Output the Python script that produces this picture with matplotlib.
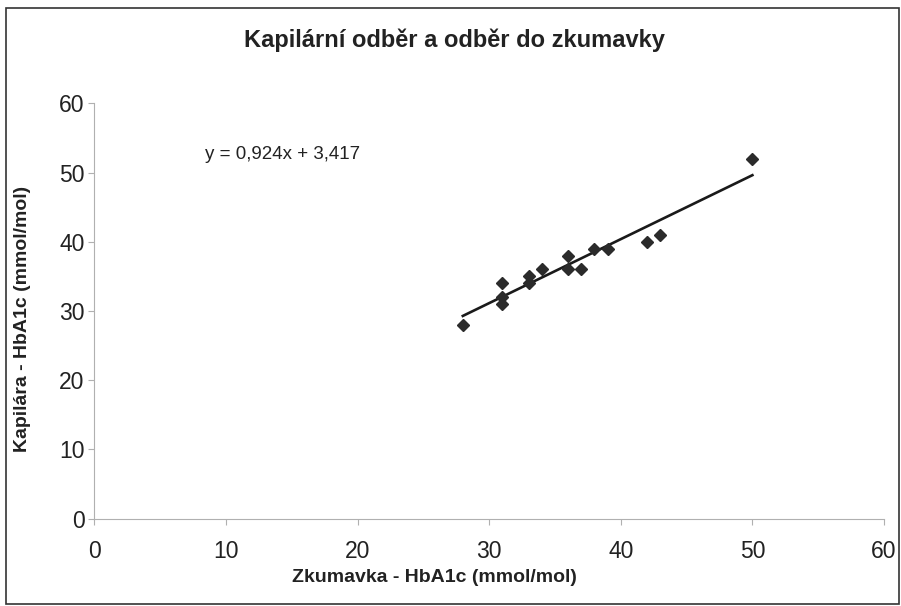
import matplotlib
matplotlib.use("Agg")
import matplotlib.pyplot as plt
import numpy as np
from matplotlib.patches import Rectangle

plt.rcParams['font.family'] = ['Liberation Sans', 'DejaVu Sans']

# Data
zkumavka = [28, 31, 31, 31, 33, 33, 34, 36, 36, 37, 38, 39, 42, 43, 50]
kapilara = [28, 34, 32, 31, 35, 34, 36, 38, 36, 36, 39, 39, 40, 41, 52]
slope = 0.924
intercept = 3.417
x_ticks = [0, 10, 20, 30, 40, 50, 60]
y_ticks = [0, 10, 20, 30, 40, 50, 60]

title = "Kapilární odběr a odběr do zkumavky"
xlabel = "Zkumavka - HbA1c (mmol/mol)"
ylabel = "Kapilára - HbA1c (mmol/mol)"
eq_label = "y = 0,924x + 3,417"

fig = plt.figure(figsize=(9.01, 6.06), dpi=100)
ax = fig.add_axes([94.3/901, 1 - 518.7/606, (884 - 94.3)/901, (518.7 - 103.3)/606])

ax.plot(zkumavka, kapilara, linestyle='none', marker='D', markersize=6.2,
        color='#2b2b2b', zorder=3)
xfit = np.array([min(zkumavka), max(zkumavka)])
ax.plot(xfit, slope * xfit + intercept, color='#1a1a1a', linewidth=1.9, zorder=2)

ax.set_xlim(0, 60)
ax.set_ylim(0, 60)
ax.set_xticks(x_ticks)
ax.set_yticks(y_ticks)
ax.tick_params(axis='x', labelsize=16.5, length=4, width=0.8, color='#b0b0b0',
               pad=11, labelcolor='#222222')
ax.tick_params(axis='y', labelsize=16.5, length=4, width=0.8, color='#b0b0b0',
               pad=3, labelcolor='#222222')
for s in ['top', 'right']:
    ax.spines[s].set_visible(False)
for s in ['left', 'bottom']:
    ax.spines[s].set_color('#b0b0b0')
    ax.spines[s].set_linewidth(0.8)

fig.text(454/901, 1 - 40/606, title, ha='center', va='center',
         fontsize=17, fontweight='bold', color='#222222')
fig.text(434/901, 1 - 577/606, xlabel, ha='center', va='center',
         fontsize=14, fontweight='bold', color='#222222')
fig.text(23/901, 1 - 319/606, ylabel, ha='center', va='center', rotation=90,
         fontsize=14, fontweight='bold', color='#222222')
fig.text(205/901, 1 - 159/606, eq_label, ha='left', va='baseline',
         fontsize=13.5, color='#222222')

fig.patches.append(Rectangle((6/901, 2/606), (893)/901, (596)/606,
                             transform=fig.transFigure, fill=False,
                             edgecolor='#333333', linewidth=1.2))

fig.savefig('out.png', dpi=100)
